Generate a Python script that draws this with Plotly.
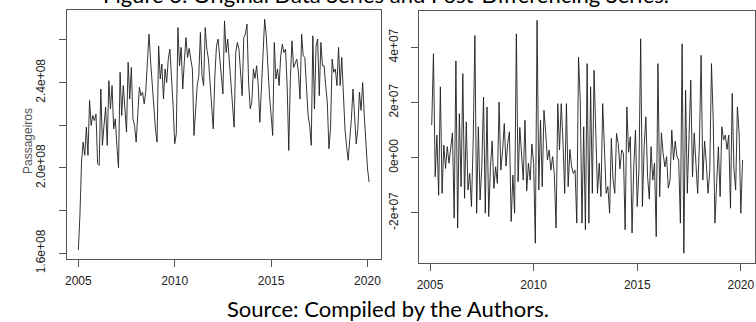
import plotly.graph_objects as go

# ---- data ----
start_year = 2005
freq = 12

# original series, units of 1e8 passengers, Jan 2005 .. Feb 2020
passengers_e8 = [
    1.615, 1.78, 2.028, 2.121, 2.059, 2.191, 2.059, 2.316, 2.199, 2.246, 2.222, 2.253,
    2.020, 2.012, 2.370, 2.106, 2.20, 2.285, 2.106, 2.409, 2.277, 2.386, 2.183, 2.230,
    2.106, 2.001, 2.448, 2.246, 2.386, 2.246, 2.168, 2.495, 2.323, 2.471, 2.230, 2.199,
    2.121, 2.25, 2.378, 2.339, 2.355, 2.30, 2.362, 2.495, 2.627, 2.50, 2.386, 2.28,
    2.183, 2.121, 2.572, 2.417, 2.487, 2.323, 2.464, 2.40, 2.510, 2.557, 2.432, 2.292,
    2.113, 2.16, 2.658, 2.479, 2.565, 2.370, 2.50, 2.611, 2.518, 2.56, 2.510, 2.464,
    2.152, 2.30, 2.386, 2.432, 2.635, 2.432, 2.386, 2.658, 2.557, 2.510, 2.386, 2.30,
    2.183, 2.432, 2.572, 2.604, 2.526, 2.45, 2.347, 2.689, 2.541, 2.604, 2.495, 2.40,
    2.277, 2.191, 2.541, 2.588, 2.557, 2.464, 2.339, 2.611, 2.627, 2.674, 2.401, 2.277,
    2.308, 2.464, 2.42, 2.479, 2.386, 2.214, 2.386, 2.588, 2.697, 2.619, 2.45, 2.339,
    2.25, 2.152, 2.588, 2.417, 2.464, 2.386, 2.526, 2.580, 2.541, 2.557, 2.386, 2.082,
    2.42, 2.596, 2.471, 2.495, 2.510, 2.45, 2.323, 2.627, 2.526, 2.518, 2.386, 2.25,
    2.20, 2.106, 2.619, 2.277, 2.572, 2.604, 2.339, 2.588, 2.479, 2.479, 2.386, 2.308,
    2.090, 2.183, 2.510, 2.448, 2.464, 2.386, 2.565, 2.386, 2.518, 2.339, 2.183, 2.10,
    2.036, 2.137, 2.230, 2.370, 2.25, 2.113, 2.183, 2.355, 2.27, 2.40, 2.25, 2.10,
    2.00, 1.934,
]

# first-differenced series, units of 1e7, Feb 2005 .. Feb 2020
diff_e7 = [
    1.18, 3.77, -0.69, 0.82, -1.36, 2.57, -1.29, 0.46, -0.39, 0.40, -0.20, 0.40,
    0.9, -2.19, 3.51, -2.55, 1.60, -1.05, 3.05, -1.47, 1.30, -1.17, -0.57, -1.77,
    0.58, 4.43, -2.01, 1.12, -1.53, -0.33, 2.20, -2.01, 1.84, -2.13, -0.33, 0.6,
    -1.11, -0.33, -0.93, 2.02, -0.45, 0.22, 1.24, -0.3, 0.52, 0.94, -2.31, -0.63,
    -2.01, 4.49, -0.87, 1.1, 0.04, -0.81, 1.36, -1.2, -0.20, -0.81, 0.5, -0.20,
    -3.10, 4.98, -1.17, 1.36, -1.05, 1.72, 0.9, -0.08, 0.28, -0.45, 0.04, -0.6,
    -2.55, 1.96, 0.28, 1.96, 0.6, -1.29, 1.96, -1.05, 0.3, -0.33, -0.57, -0.45,
    -2.37, 3.65, 2.08, -2.37, 1.12, -2.61, 3.41, -2.37, 2.57, -1.29, 3.17, 0.4,
    -1.29, -0.20, -1.41, 1.96, 0.5, -1.29, -1.05, -2.01, 0.7, -0.81, -1.29, 0.88,
    0.52, -0.4, 0.28, 0.16, -2.61, 1.84, 0.2, 0.76, -2.73, -0.33, 1.0, -1.77,
    -0.45, 4.31, -1.77, 0.40, 1.48, -0.69, -1.5, 0.40, -0.81, -0.20, -2.86, 3.41,
    -1.41, 0.9, 0.16, -0.33, 0.04, -1.1, -0.81, 1.00, -0.08, 0.6, 0.04, -0.08,
    -2.37, 4.13, -3.46, 2.45, -1.29, 0.7, 2.81, -0.69, 0.9, -0.20, -1.29, 0.5,
    3.71, -0.81, 0.6, -0.20, -1.29, -0.5, 3.41, 1.36, -2.37, -0.93, 0.4, -1.41,
    1.12, 0.64, 0.82, 0.3, 0.82, -1.83, 2.33, -0.4, -1.17, 1.84, 0.9, -2.01,
    -0.08,
]

year_ticks = [2005, 2010, 2015, 2020]
year_labels = ["2005", "2010", "2015", "2020"]
left_tickvals = [1.6, 1.8, 2.0, 2.2, 2.4, 2.6]
left_ticktext = ["1.6e+08", "", "2.0e+08", "", "2.4e+08", ""]
right_tickvals = [-2, 0, 2, 4]
right_ticktext = ["-2e+07", "0e+00", "2e+07", "4e+07"]
y_title = "Passageiros"
caption = "Figure 3: Original Data Series and Post-Differencing Series."
source = "Source: Compiled by the Authors."

# ---- time index (monthly ts) ----
t_orig = [start_year + i / freq for i in range(len(passengers_e8))]
t_diff = [start_year + (i + 1) / freq for i in range(len(diff_e7))]


def r_range(vals):
    lo, hi = min(vals), max(vals)
    ext = 0.04 * (hi - lo)
    return [lo - ext, hi + ext]


W, H = 756, 322
AX = "#555555"
TXT = "#222222"
LINE = "#1e1e1e"
tick_font = dict(family="Liberation Sans, Arial, sans-serif", size=12, color=TXT)

fig = go.Figure()
fig.add_trace(go.Scatter(x=t_orig, y=passengers_e8, mode="lines",
                         line=dict(color=LINE, width=0.9),
                         xaxis="x", yaxis="y", showlegend=False, hoverinfo="skip"))
fig.add_trace(go.Scatter(x=t_diff, y=diff_e7, mode="lines",
                         line=dict(color=LINE, width=0.9),
                         xaxis="x2", yaxis="y2", showlegend=False, hoverinfo="skip"))


def px_x(a, b):
    return [a / W, b / W]


def px_y(top, bottom):
    return [(H - bottom) / H, (H - top) / H]


common = dict(showline=True, mirror=True, linecolor=AX, linewidth=1,
              ticks="outside", ticklen=7, tickcolor=AX, tickwidth=1,
              showgrid=False, zeroline=False, tickfont=tick_font, automargin=False)

fig.update_layout(
    width=W, height=H,
    margin=dict(l=0, r=0, t=0, b=0, pad=0),
    paper_bgcolor="white", plot_bgcolor="white",
    xaxis=dict(domain=px_x(66.7, 380.7), range=r_range(t_orig), anchor="y",
               tickvals=year_ticks, ticktext=year_labels, ticklabelstandoff=3, **common),
    yaxis=dict(domain=px_y(10, 259.3), range=r_range(passengers_e8), anchor="x",
               tickvals=left_tickvals, ticktext=left_ticktext, tickangle=-90,
               ticklabelstandoff=9, **common),
    xaxis2=dict(domain=px_x(419.3, 755.0), range=r_range(t_diff), anchor="y2",
                tickvals=year_ticks, ticktext=year_labels, ticklabelstandoff=4, **common),
    yaxis2=dict(domain=px_y(11, 262.5), range=r_range(diff_e7), anchor="x2",
                tickvals=right_tickvals, ticktext=right_ticktext, tickangle=-90,
                ticklabelstandoff=9, **common),
    annotations=[
        dict(text=y_title, xref="paper", yref="paper", x=28 / W, y=(H - 141) / H,
             showarrow=False, textangle=-90, xanchor="center", yanchor="middle",
             font=dict(family="Liberation Sans, Arial, sans-serif", size=12, color="#555555")),
        dict(text=source, xref="paper", yref="paper", x=388 / W, y=(H - 308.5) / H,
             showarrow=False, xanchor="center", yanchor="middle",
             font=dict(family="Lato, sans-serif", size=22, color="#000000")),
        dict(text=caption, xref="paper", yref="paper", x=386 / W, y=(H + 6) / H,
             showarrow=False, xanchor="center", yanchor="middle",
             font=dict(family="Lato, sans-serif", size=22, color="#000000")),
    ],
)

fig.write_html(
    "out.html",
    config={"displayModeBar": False},
    post_script="document.body.style.margin='0';document.body.style.padding='0';",
)
